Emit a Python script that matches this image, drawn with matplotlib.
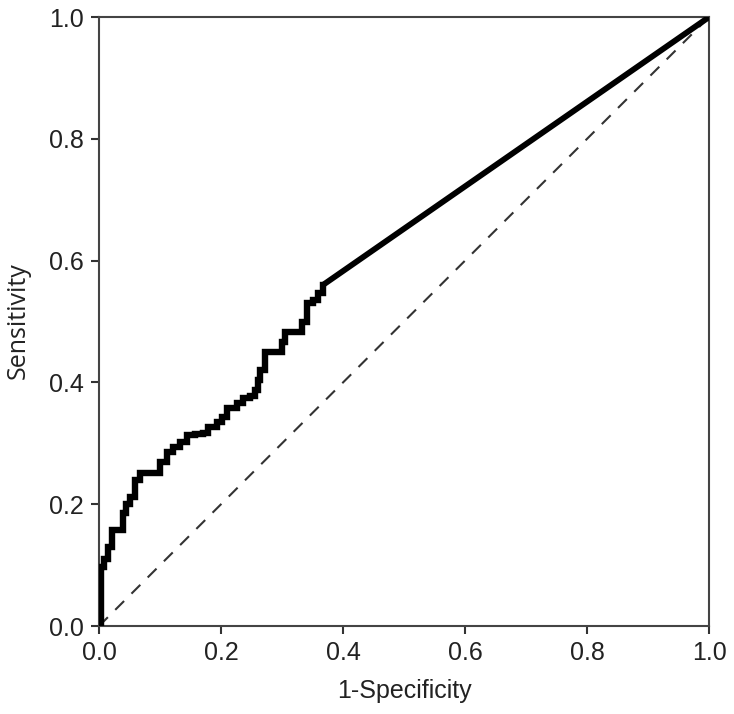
import matplotlib
matplotlib.use("Agg")
import matplotlib.pyplot as plt

plt.rcParams['font.family'] = ['Liberation Sans', 'DejaVu Sans']

# ROC curve (1-specificity, sensitivity)
fpr = [0.0, 0.003, 0.004, 0.008, 0.014, 0.021, 0.030, 0.039, 0.045, 0.051,
       0.059, 0.067, 0.078, 0.088, 0.100, 0.111, 0.121, 0.133, 0.144, 0.157,
       0.170, 0.179, 0.193, 0.202, 0.210, 0.226, 0.236, 0.248, 0.256, 0.261,
       0.264, 0.272, 0.289, 0.300, 0.305, 0.325, 0.333, 0.341, 0.351, 0.359,
       0.367, 1.0]
tpr = [0.0, 0.05, 0.097, 0.11, 0.13, 0.158, 0.158, 0.186, 0.200, 0.212,
       0.240, 0.251, 0.251, 0.251, 0.270, 0.286, 0.294, 0.302, 0.314, 0.316,
       0.317, 0.327, 0.335, 0.343, 0.358, 0.366, 0.374, 0.378, 0.388, 0.404,
       0.420, 0.450, 0.450, 0.466, 0.483, 0.483, 0.499, 0.530, 0.535, 0.547,
       0.560, 1.0]

ref = [0.0, 1.0]

fig = plt.figure(figsize=(7.34, 7.14), dpi=100)
ax = fig.add_axes([0.1349, 0.1232, 0.8311, 0.8529])

ax.plot(fpr[:-1], tpr[:-1], color="black", lw=4.6, drawstyle="steps-post",
        solid_joinstyle="miter", zorder=3)
ax.plot(fpr[-2:], tpr[-2:], color="black", lw=4.2, solid_capstyle="round", zorder=3)
ax.plot(ref, ref, color="#333333", lw=1.5, ls=(0, (6, 5)), zorder=2)

ax.set_xlim(0, 1)
ax.set_ylim(0, 1)
ticks = [0.0, 0.2, 0.4, 0.6, 0.8, 1.0]
ax.set_xticks(ticks)
ax.set_yticks(ticks)
ax.set_xticklabels(["{:.1f}".format(t) for t in ticks])
ax.set_yticklabels(["{:.1f}".format(t) for t in ticks])
ax.tick_params(direction="out", length=6, width=1.5, colors="#333333",
               labelsize=18, labelcolor="#222222", pad=5)
for s in ax.spines.values():
    s.set_linewidth(1.5)
    s.set_color("#444444")

ax.set_xlabel("1-Specificity", fontsize=18, color="#222222", labelpad=10)
ax.set_ylabel("Sensitivity", fontsize=18, color="#222222",
              family=["Open Sans", "DejaVu Sans"], va="center")
ax.yaxis.set_label_coords(-0.133, 0.502)

fig.savefig("out.png", dpi=100)
